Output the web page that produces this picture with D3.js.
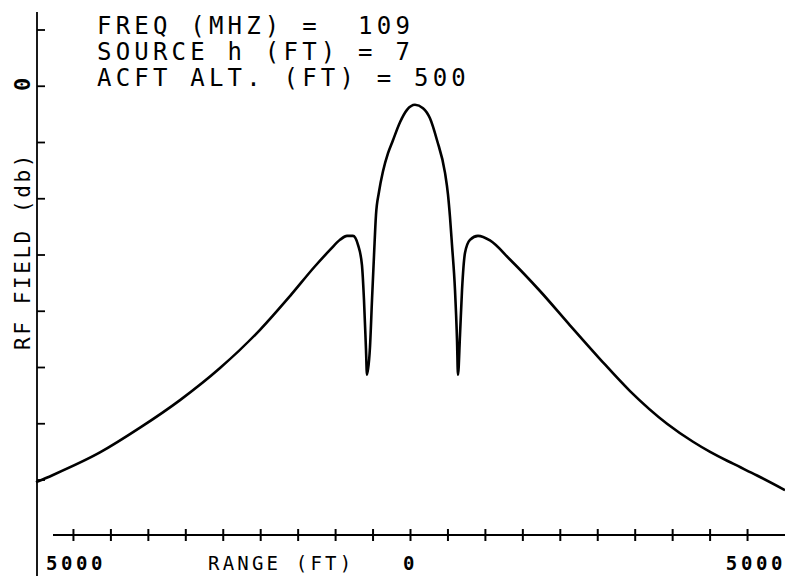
<!DOCTYPE html>
<html>
<head>
<meta charset="utf-8">
<script src="https://cdn.jsdelivr.net/npm/d3@7"></script>
<style>
  html, body { margin: 0; padding: 0; background: #fff; }
  svg { display: block; }
  text { font-family: "DejaVu Sans Mono", "Liberation Mono", monospace; fill: #000; white-space: pre; }
</style>
</head>
<body>
<svg id="chart" width="785" height="576"></svg>
<script>
// RF field strength vs. range, aircraft at 500 ft over a 7 ft source at 109 MHz
const rangeFt = [
  -5000, -4773, -4146, -3611, -3077, -2543, -2009, -1609, -1275, -1075, -941, -848, -768, -701,
  -648, -621, -594, -581,
  -541, -514, -487, -461, -421, -367, -300, -234, -140, -47, 60, 167, 260, 354, 461, 501, 527, 554, 594, 621, 634,
  661, 688, 728, 794, 901, 1061, 1328, 1729, 2129, 2530, 2931, 3425, 3772, 4000, 4307, 4627, 5000
];
const fieldDb = [
  -70.4, -69.1, -65.1, -60.7, -55.8, -50.1, -43.3, -37.3, -32.0, -29.1, -27.3, -26.6, -26.6, -28.2,
  -31.8, -38.0, -46.9, -51.3,
  -46.4, -38.0, -30.0, -22.9, -18.8, -15.1, -11.9, -9.6, -6.4, -4.2, -3.3, -3.9, -5.7, -9.6, -15.4, -19.3, -23.2, -28.2, -36.2, -45.1, -51.3,
  -44.2, -36.2, -29.6, -27.3, -26.6, -27.4, -30.8, -36.4, -42.5, -48.5, -54.2, -60.0, -63.2, -65.0, -67.1, -69.2, -71.8
];

const xTicks = [-4500, -4000, -3500, -3000, -2500, -2000, -1500, -1000, -500, 0,
                500, 1000, 1500, 2000, 2500, 3000, 3500, 4000, 4500];
const yTicks = [10, 0, -10, -20, -30, -40, -50, -60, -70];
const yTickLabels = [{ v: 0, t: "0" }];
const xTickLabels = [
  { v: -5000, t: "5000", anchor: "start", dx: 10 },
  { v: 0, t: "0", anchor: "middle", dx: 0 },
  { v: 5000, t: "5000", anchor: "end", dx: 1 }
];
const headerLines = ["FREQ (MHZ) =  109", "SOURCE h (FT) = 7", "ACFT ALT. (FT) = 500"];

const svg = d3.select("#chart");
const x = d3.scaleLinear().domain([-5000, 5000]).range([36, 785]);
const y = d3.scaleLinear().domain([-70, 10]).range([480, 30]);

const axisX0 = x(-5000) + 1;   // vertical axis position
const axisY0 = 535;           // horizontal axis position

// vertical axis
svg.append("line")
  .attr("x1", axisX0).attr("x2", axisX0)
  .attr("y1", y(13.2)).attr("y2", 576)
  .attr("stroke", "#000").attr("stroke-width", 1.8);
svg.append("g").selectAll("line").data(yTicks).join("line")
  .attr("x1", axisX0).attr("x2", axisX0 + 8)
  .attr("y1", d => y(d)).attr("y2", d => y(d))
  .attr("stroke", "#000").attr("stroke-width", 1.8);
svg.append("g").selectAll("text").data(yTickLabels).join("text")
  .attr("transform", d => `translate(30,${y(d.v) - 2}) rotate(-90)`)
  .attr("text-anchor", "middle")
  .attr("font-size", 22).attr("font-weight", "bold")
  .text(d => d.t);
svg.append("text")
  .attr("transform", `translate(30,${(152 + 350) / 2}) rotate(-90)`)
  .attr("text-anchor", "middle")
  .attr("font-size", 21).attr("letter-spacing", 2.6)
  .text("RF FIELD (db)");

// horizontal axis
svg.append("line")
  .attr("x1", 53).attr("x2", 785)
  .attr("y1", axisY0).attr("y2", axisY0)
  .attr("stroke", "#000").attr("stroke-width", 2.2);
svg.append("g").selectAll("line").data(xTicks).join("line")
  .attr("x1", d => x(d)).attr("x2", d => x(d))
  .attr("y1", axisY0 - 6).attr("y2", axisY0 + 6)
  .attr("stroke", "#000").attr("stroke-width", 2);
svg.append("g").selectAll("text").data(xTickLabels).join("text")
  .attr("x", d => x(d.v) + d.dx).attr("y", 570)
  .attr("text-anchor", d => d.anchor)
  .attr("font-size", 19).attr("font-weight", "bold").attr("letter-spacing", 3.6)
  .text(d => d.t);
svg.append("text")
  .attr("x", 208).attr("y", 570)
  .attr("font-size", 19).attr("letter-spacing", 3.2)
  .text("RANGE (FT)");

// header block
svg.append("g").selectAll("text").data(headerLines).join("text")
  .attr("x", 97).attr("y", (d, i) => 34 + i * 26)
  .attr("font-size", 24).attr("letter-spacing", 4.2)
  .text(d => d);

// field curve
const line = d3.line()
  .x((d, i) => x(rangeFt[i]))
  .y(d => y(d))
  .curve(d3.curveMonotoneX);
svg.append("path")
  .datum(fieldDb)
  .attr("d", line)
  .attr("fill", "none")
  .attr("stroke", "#000")
  .attr("stroke-width", 2.6)
  .attr("stroke-linejoin", "round");
</script>
</body>
</html>
